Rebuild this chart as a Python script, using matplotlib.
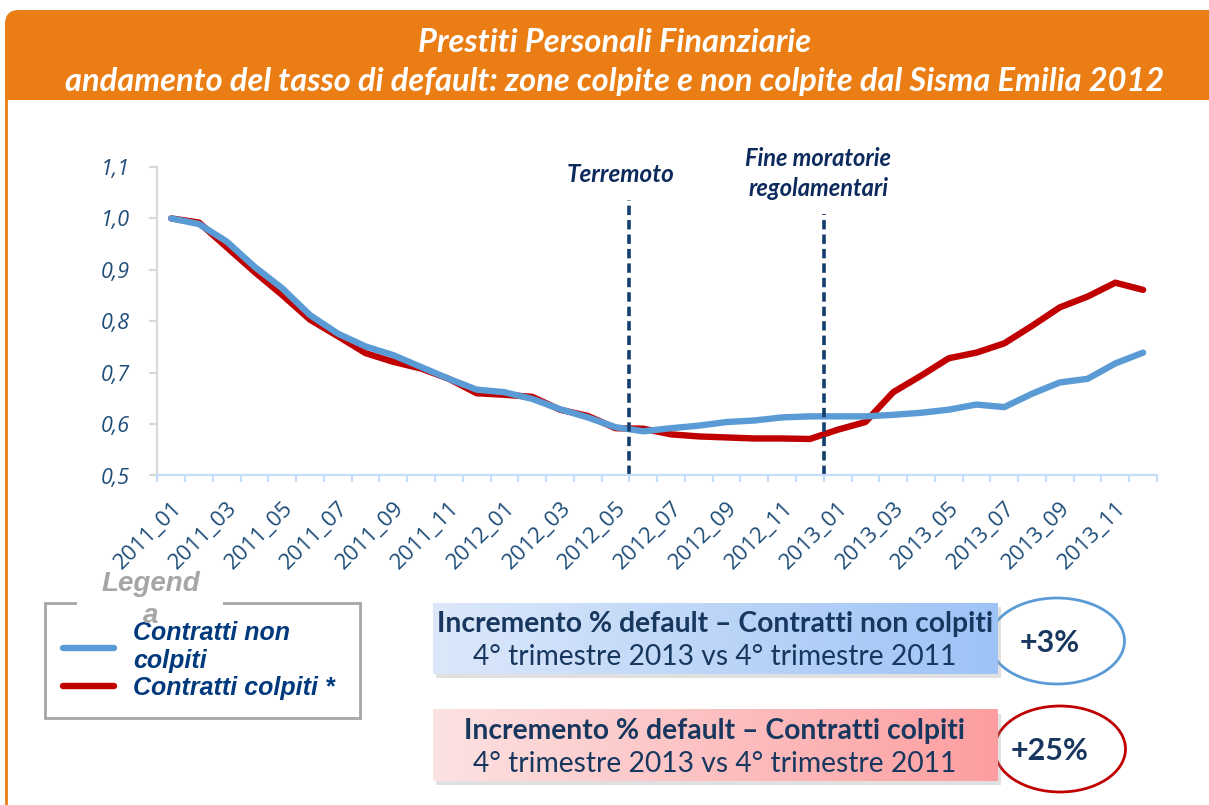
import matplotlib

matplotlib.use("Agg")

import matplotlib.pyplot as plt
import numpy as np
from matplotlib.colors import LinearSegmentedColormap
from matplotlib.patches import Ellipse, FancyBboxPatch, Rectangle

W, H = 1209, 805

TITLE_1 = "Prestiti Personali Finanziarie"
TITLE_2 = "andamento del tasso di default: zone colpite e non colpite dal Sisma Emilia 2012"

MONTHS = [f"{y}_{m:02d}" for y in (2011, 2012, 2013) for m in range(1, 13)]

NON_COLPITI = [1.000, 0.989, 0.955, 0.906, 0.864, 0.812, 0.776, 0.751, 0.734, 0.711,
               0.688, 0.667, 0.662, 0.649, 0.629, 0.613, 0.594, 0.586, 0.592, 0.597,
               0.604, 0.607, 0.613, 0.615, 0.615, 0.615, 0.618, 0.622, 0.628, 0.638,
               0.633, 0.659, 0.681, 0.688, 0.718, 0.739]
COLPITI = [1.000, 0.992, 0.944, 0.896, 0.851, 0.803, 0.771, 0.738, 0.721, 0.708,
           0.688, 0.660, 0.657, 0.653, 0.628, 0.616, 0.592, 0.591, 0.580, 0.576,
           0.574, 0.572, 0.572, 0.571, 0.589, 0.604, 0.662, 0.694, 0.728, 0.739,
           0.757, 0.791, 0.827, 0.848, 0.875, 0.861]
SERIES_LABELS = ["Contratti non\ncolpiti", "Contratti colpiti *"]

EVENT_POS = [16.5, 23.5]  # between 2012_05/06 and 2012_12/2013_01
EVENT_TOP = [1.035, 1.008]
EVENT_LABELS = ["Terremoto", "Fine moratorie\nregolamentari"]

BOX_TITLES = ["Incremento % default \u2013 Contratti non colpiti",
              "Incremento % default \u2013 Contratti colpiti"]
BOX_SUB = "4\u00b0 trimestre 2013 vs 4\u00b0 trimestre 2011"
BOX_VALUES = ["+3%", "+25%"]

ORANGE = "#EA7D14"
NAVY = "#17375E"
TICK_BLUE = "#1F4E79"
BLUE = "#5B9BD5"
RED = "#C00000"

fig = plt.figure(figsize=(W / 100, H / 100), dpi=100)
fig.patch.set_facecolor("white")

# decoration layer in pixel coordinates
deco = fig.add_axes([0, 0, 1, 1], zorder=0)
deco.axis("off")

deco.add_patch(FancyBboxPatch((5, 10), 1230, 90, boxstyle="round,pad=0,rounding_size=14",
                              facecolor=ORANGE, edgecolor="none"))
deco.add_patch(Rectangle((5, 55), 1230, 45, facecolor=ORANGE, edgecolor="none"))
deco.plot([6, 6], [100, H], color=ORANGE, lw=2)
deco.text(615, 42, TITLE_1, ha="center", va="center", color="white", fontsize=23.5,
          family="Lato", weight="bold", style="italic")
deco.text(615, 82, TITLE_2, ha="center", va="center", color="white", fontsize=23.5,
          family="Lato", weight="bold", style="italic")

# summary boxes
box_specs = [
    (603, ["#DCE8FA", "#9DC3F6"], (1057, 641, 135, 86), BLUE),
    (710, ["#FDE2E2", "#FC9EA0"], (1060, 749, 131, 86), RED),
]
for i, (top, cols, ell, ecol) in enumerate(box_specs):
    deco.add_patch(Ellipse(ell[:2], ell[2], ell[3], fill=False, edgecolor=ecol, lw=2, zorder=1))
    deco.add_patch(Rectangle((436, top + 4), 565, 71, facecolor="#999999", alpha=0.3,
                             edgecolor="none", zorder=2))
    cmap = LinearSegmentedColormap.from_list(f"g{i}", cols)
    deco.imshow(np.linspace(0, 1, 256).reshape(1, -1), cmap=cmap, aspect="auto",
                extent=(433, 998, top + 71, top), zorder=3)
    deco.text(715, top + 21, BOX_TITLES[i], ha="center", va="center", color=NAVY,
              fontsize=20.3, family="Lato", weight="bold", zorder=4)
    deco.text(715, top + 54, BOX_SUB, ha="center", va="center", color=NAVY,
              fontsize=20.3, family="Lato", zorder=4)
    deco.text(1050, ell[1] + 2, BOX_VALUES[i], ha="center", va="center", color=NAVY,
              fontsize=22, family="Lato", weight="bold", zorder=4)

# chart
L, R, B, T = 157.3, 1157, 475.5, 167
ax = fig.add_axes([L / W, 1 - B / H, (R - L) / W, (B - T) / H], zorder=2)
ax.set_facecolor("none")
x = np.arange(len(MONTHS))
red_line, = ax.plot(x, COLPITI, color=RED, lw=4.6, solid_capstyle="round",
                    solid_joinstyle="round")
blue_line, = ax.plot(x, NON_COLPITI, color=BLUE, lw=4.6, solid_capstyle="round",
                     solid_joinstyle="round")
ax.set_xlim(-0.5, len(MONTHS) - 0.5)
ax.set_ylim(0.5, 1.1)

for pos, top in zip(EVENT_POS, EVENT_TOP):
    ax.axvline(pos, ymin=0, ymax=(top - 0.5) / 0.6, color="#133E6E", lw=2.6,
               dashes=(2.6, 1.4))
ax.text(16.2, 1.086, EVENT_LABELS[0], ha="center", va="center", color="#0D2A5C",
        fontsize=17.5, family="Lato", weight="bold", style="italic", clip_on=False)
ax.text(23.3, 1.087, EVENT_LABELS[1], ha="center", va="center", color="#0D2A5C",
        fontsize=17, family="Lato", weight="bold", style="italic", linespacing=1.35,
        clip_on=False)

for s in ("top", "right"):
    ax.spines[s].set_visible(False)
ax.spines["left"].set_color("#D9D9D9")
ax.spines["left"].set_linewidth(1.6)
ax.spines["bottom"].set_color("#C5DDF8")
ax.spines["bottom"].set_linewidth(1.6)

yt = np.round(np.arange(0.5, 1.11, 0.1), 1)
ax.set_yticks(yt, [f"{v:.1f}".replace(".", ",") for v in yt])
ax.tick_params(axis="y", length=6, width=1.6, color="#D9D9D9", pad=14,
               labelsize=15.5, labelcolor=TICK_BLUE)
for t in ax.get_yticklabels():
    t.set_family("Open Sans")
    t.set_style("italic")

ax.set_xticks(np.arange(-0.5, len(MONTHS)), [])
ax.tick_params(axis="x", which="major", length=5, width=1.6, color="#C5DDF8")
ax.set_xticks(x[::2], MONTHS[::2], minor=True)
ax.tick_params(axis="x", which="minor", length=0, pad=16, labelsize=16,
               labelcolor=TICK_BLUE)
for t in ax.get_xticklabels(minor=True):
    t.set_family("Open Sans")
    t.set_rotation(45)
    t.set_ha("right")
    t.set_va("top")
    t.set_rotation_mode("anchor")

# legend
leg = deco.legend([blue_line, red_line], SERIES_LABELS, loc="upper left",
                  bbox_to_anchor=(45 / W, (H - 720) / H, 315 / W, 117 / H),
                  bbox_transform=fig.transFigure, mode="expand", borderaxespad=0,
                  borderpad=0.72, handlelength=2.05, handletextpad=0.76,
                  labelspacing=0.12, fancybox=False, framealpha=1, edgecolor="#A6A6A6",
                  prop={"family": "Liberation Sans", "weight": "bold", "style": "italic",
                        "size": 18})
leg.get_frame().set_linewidth(2)
for t in leg.get_texts():
    t.set_color("#003A7D")
leg.set_zorder(5)
deco.add_patch(Rectangle((77, 594), 146, 18, facecolor="white", edgecolor="none", zorder=6))
deco.text(151, 600, "Legend\na", ha="center", va="center", color="#A6A6A6", fontsize=20,
          family="Liberation Sans", weight="bold", style="italic", linespacing=1.3,
          zorder=7)

deco.set_xlim(0, W)
deco.set_ylim(H, 0)

fig.savefig("out.png", dpi=100)
